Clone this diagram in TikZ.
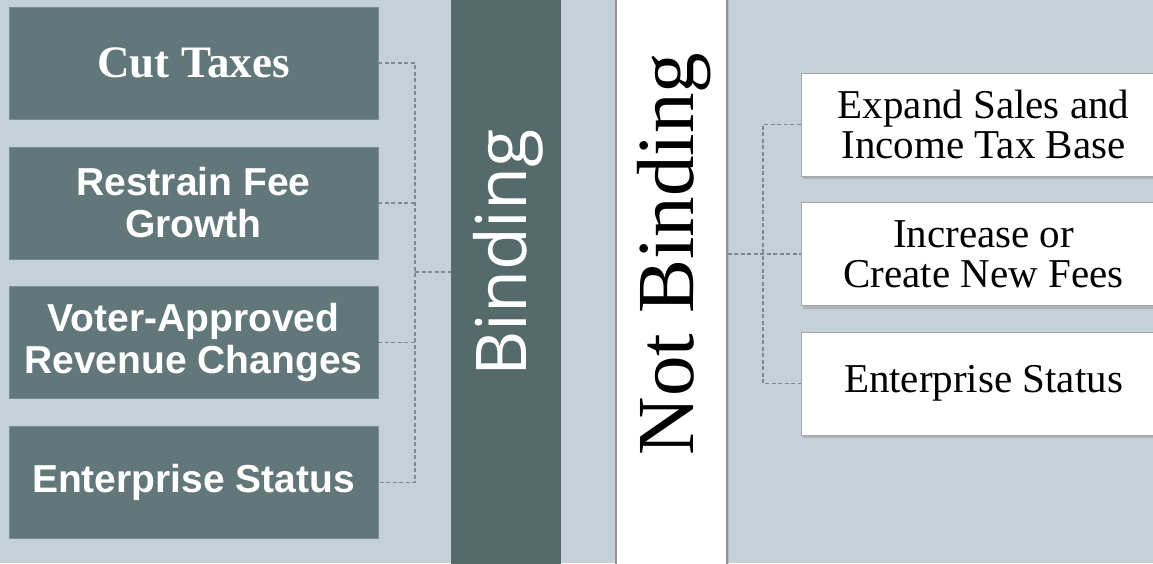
\documentclass[tikz,border=0pt]{standalone}
\usepackage{fontspec}
\setmainfont{Liberation Serif}
\newfontfamily\boxsans{Liberation Sans}
\newfontfamily\barsans{Open Sans}
\usepackage{tikz}
\usetikzlibrary{positioning, calc, shadows}
\usepackage{xcolor}
\definecolor{slatebg}{HTML}{C5D1D8}
\definecolor{slatebox}{HTML}{627779}
\definecolor{slatebar}{HTML}{546A6B}
\definecolor{slateline}{HTML}{788D90}
\definecolor{slateedge}{HTML}{7B8E90}

\begin{document}
\begin{tikzpicture}[
  x=1pt, y=-1pt,
  lbox/.style={draw=slateedge, line width=0.8pt, fill=slatebox, text=white,
    minimum width=369pt, minimum height=112pt, align=center,
    font=\boxsans\bfseries\fontsize{39}{42}\selectfont},
  rbox/.style={draw=gray!70, line width=0.8pt, fill=white,
    minimum width=365pt, minimum height=103pt, align=center,
    font=\fontsize{41}{40}\selectfont,
    drop shadow={opacity=0.35, shadow xshift=2pt, shadow yshift=-3pt}},
  bar/.style={minimum width=#1, minimum height=580pt, inner sep=0pt},
  link/.style={draw=slateline, line width=1.2pt, dash pattern=on 4pt off 2.5pt}
]
  \clip (0,0) rectangle (1153,563);
  \fill[slatebg] (0,0) rectangle (1153,563);

  % Bars
  \node[bar=110pt, fill=slatebar] (binding) at (506,281.5) {};
  \node[bar=111pt, fill=white, draw=gray!85, line width=1.2pt,
    drop shadow={opacity=0.25, shadow xshift=2pt, shadow yshift=0pt}]
    (notbinding) at (671.5,281.5) {};
  \node[rotate=90, inner sep=0pt, text=white,
    font=\barsans\fontsize{70}{72}\selectfont] at (508,253) {Binding};
  \node[rotate=90, inner sep=0pt,
    font=\fontsize{81}{84}\selectfont] at (674,254) {Not Binding};

  % Binding options
  \node[lbox, font=\bfseries\fontsize{45}{48}\selectfont] (b1) at (193.5,63) {Cut Taxes};
  \node[lbox] (b2) at (193.5,203) {Restrain Fee\\Growth};
  \node[lbox] (b3) at (193.5,342.5) {Voter-Approved\\Revenue Changes};
  \node[lbox] (b4) at (193.5,482.5) {Enterprise Status};

  \coordinate (bjoin) at (415,272);
  \draw[link] (b1.east) -| (bjoin |- b4.east) -- (b4.east);
  \foreach \i in {2,3} {
    \draw[link] (b\i.east) -- (b\i.east -| bjoin);
  }
  \draw[link] (bjoin) -- (bjoin -| binding.west);

  % Not binding options
  \foreach \i/\w/\y in {1/{Expand Sales and\\Income Tax Base}/124.5,
      2/{Increase or\\Create New Fees}/254, 3/{Enterprise Status}/383.5} {
    \node[rbox] (n\i) at (983.5,\y) {\w};
  }

  \coordinate (njoin) at (763,254);
  \draw[link] (n1.west) -| (njoin |- n3.west) -- (n3.west);
  \draw[link] (n2.west -| notbinding.east) -- (n2.west);
\end{tikzpicture}
\end{document}
